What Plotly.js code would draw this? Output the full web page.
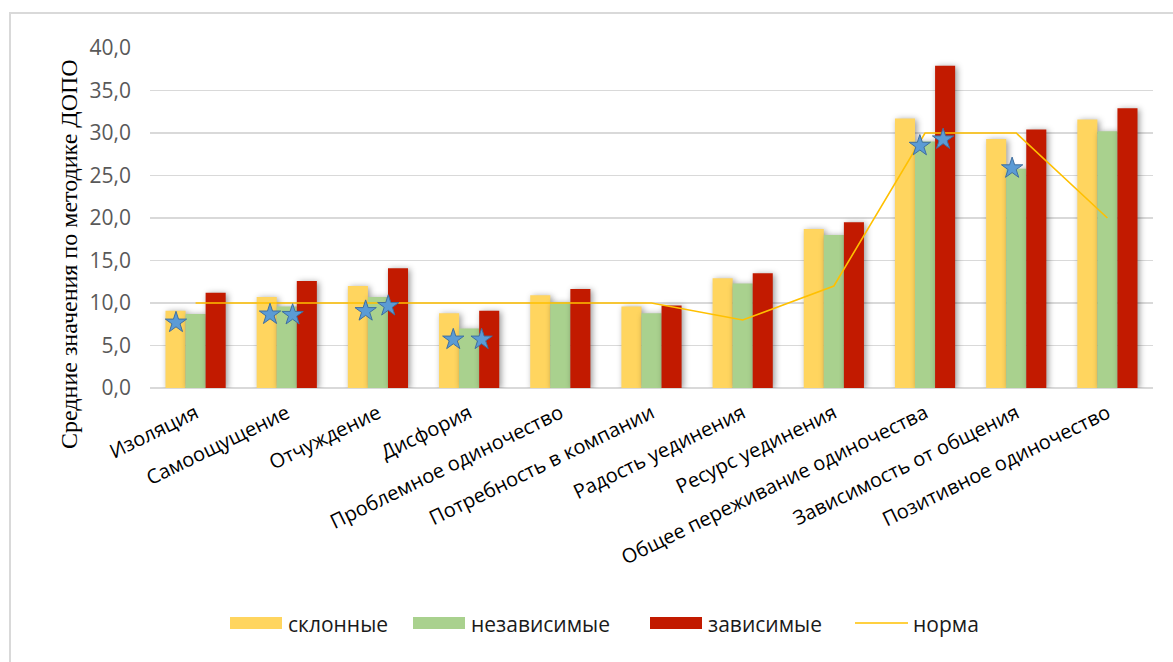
<!DOCTYPE html>
<html>
<head>
<meta charset="utf-8">
<script src="https://cdn.plot.ly/plotly-3.0.1.min.js"></script>
<style>
  html, body { margin: 0; padding: 0; background: #fff; }
  #chart { width: 1173px; height: 662px; position: absolute; left: 0; top: 0; }
  #frame { position: absolute; left: 9px; top: 12px; width: 1200px; height: 700px;
           border-left: 2px solid #d9d9d9; border-top: 2px solid #d9d9d9; pointer-events: none; }
</style>
</head>
<body>
<div id="chart"></div>
<div id="frame"></div>
<script>
// ---- data ----
const categories = ['Изоляция', 'Самоощущение', 'Отчуждение', 'Дисфория',
  'Проблемное одиночество', 'Потребность в компании', 'Радость уединения',
  'Ресурс уединения', 'Общее переживание одиночества', 'Зависимость от общения',
  'Позитивное одиночество'];
const seriesNames = ['склонные', 'независимые', 'зависимые', 'норма'];
const sklonnye    = [9.1, 10.7, 12.0, 8.8, 10.9, 9.6, 12.9, 18.7, 31.7, 29.3, 31.6];
const nezavisimye = [8.7, 9.6, 10.7, 7.0, 10.1, 8.8, 12.3, 18.0, 29.0, 25.8, 30.2];
const zavisimye   = [11.2, 12.6, 14.1, 9.1, 11.65, 9.7, 13.5, 19.5, 37.9, 30.4, 32.9];
const norma       = [10, 10, 10, 10, 10, 10, 8, 12, 30, 30, 20];
// significance stars (category index + offset inside group, value)
const starX = [-0.215, 0.816, 1.064, 1.865, 2.113, 2.826, 3.137, 7.943, 8.198, 8.955];
const starY = [7.7, 8.65, 8.6, 9.05, 9.65, 5.7, 5.7, 28.5, 29.25, 25.85];
const yTicks = [0, 5, 10, 15, 20, 25, 30, 35, 40];

const colors = ['#FFD55F', '#A9D18E', '#C21A00', '#FFC000'];
const FONT = 'Open Sans, Noto Sans, sans-serif';

const barSeries = [sklonnye, nezavisimye, zavisimye];
const data = barSeries.map((vals, i) => ({
  type: 'bar', x: categories, y: vals, name: seriesNames[i],
  marker: { color: colors[i], line: { width: 0 } },
  hoverinfo: 'skip', showlegend: false
}));
data.push({
  type: 'scatter', mode: 'lines', x: categories, y: norma, name: seriesNames[3],
  line: { color: colors[3], width: 1.6 }, hoverinfo: 'skip', showlegend: false
});
data.push({
  type: 'scatter', mode: 'markers', x: starX, y: starY, xaxis: 'x2', yaxis: 'y',
  showlegend: false, hoverinfo: 'skip',
  marker: { symbol: 'star', size: 16, color: '#5B9BD5', line: { color: '#3F6FA0', width: 1 } }
});

const L = 150, R = 20, T = 48, B = 274;
const W = 1173, H = 662;
const pw = W - L - R, ph = H - T - B;
const px = v => (v - L) / pw;
const py = v => (H - B - v) / ph;

// legend (drawn as shapes + text, positions in page pixels)
const legendSwatchX = [230, 413, 650, 855];
const legendY = 623;
const shapes = [];
const annotations = [];
seriesNames.forEach((nm, i) => {
  const x0 = legendSwatchX[i];
  if (i < 3) {
    shapes.push({ type: 'rect', xref: 'paper', yref: 'paper',
      x0: px(x0), x1: px(x0 + 52), y0: py(legendY + 6), y1: py(legendY - 6),
      fillcolor: colors[i], line: { width: 0 } });
  } else {
    shapes.push({ type: 'line', xref: 'paper', yref: 'paper',
      x0: px(x0), x1: px(x0 + 53), y0: py(legendY), y1: py(legendY),
      line: { color: colors[i], width: 1.6 } });
  }
  annotations.push({ text: nm, xref: 'paper', yref: 'paper',
    x: px(x0 + 56), y: py(legendY + 1), xanchor: 'left', yanchor: 'middle',
    showarrow: false, font: { family: FONT, size: 21, color: '#1a1a1a' } });
});
annotations.push({
  text: 'Средние значения по методике ДОПО', textangle: -90,
  xref: 'paper', yref: 'paper', x: px(69), y: py(254),
  xanchor: 'center', yanchor: 'middle', showarrow: false,
  font: { family: 'Liberation Serif, Times New Roman, serif', size: 24, color: '#000' }
});

const layout = {
  width: W, height: H,
  margin: { l: L, r: R, t: T, b: B, pad: 0 },
  paper_bgcolor: 'rgba(0,0,0,0)', plot_bgcolor: 'rgba(0,0,0,0)',
  barmode: 'group', bargap: 0.34, bargroupgap: 0,
  separators: ',.',
  showlegend: false,
  xaxis: {
    type: 'category', tickangle: -26, automargin: false,
    tickfont: { family: FONT, size: 20, color: '#000' },
    showgrid: false, zeroline: false, showline: false, ticks: '',
    ticklabelstandoff: 9,
    range: [-0.5, 10.5]
  },
  xaxis2: {
    overlaying: 'x', range: [-0.5, 10.5], visible: false, type: 'linear'
  },
  yaxis: {
    range: [0, 40], tickvals: yTicks, tickformat: '.1f', automargin: false,
    tickfont: { family: FONT, size: 21, color: '#595959' },
    gridcolor: '#d9d9d9', gridwidth: 1.6, zeroline: true, zerolinecolor: '#d9d9d9',
    zerolinewidth: 1.6, showline: false, ticks: '', ticklabelstandoff: 18
  },
  shapes: shapes,
  annotations: annotations
};

Plotly.newPlot('chart', data, layout, { staticPlot: true, displayModeBar: false }).then(gd => {
  gd.querySelectorAll('.barlayer .point path').forEach(p => {
    p.style.filter = 'drop-shadow(2px 1px 3px rgba(0,0,0,0.4))';
  });
});
</script>
</body>
</html>
